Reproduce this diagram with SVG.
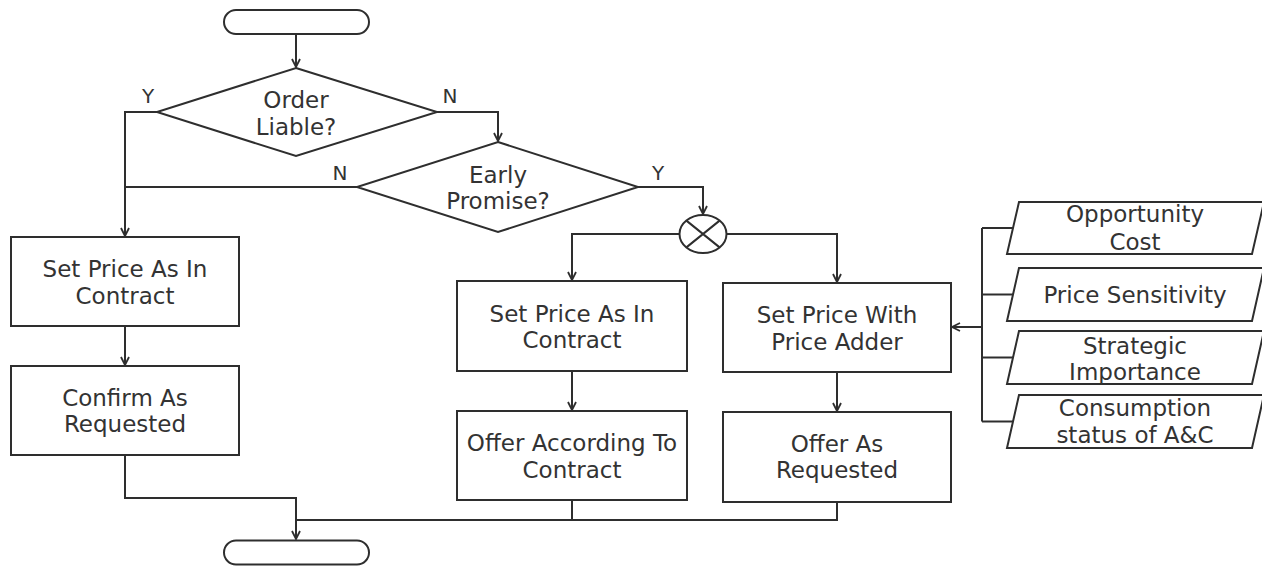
<svg xmlns="http://www.w3.org/2000/svg" width="1262" height="567" viewBox="0 0 1262 567">
  <style>
    .shape { fill: #ffffff; stroke: #2e2e2e; stroke-width: 2; }
    .line { fill: none; stroke: #2e2e2e; stroke-width: 2; }
    .label { font-family: "DejaVu Sans", Verdana, sans-serif; font-size: 23px; fill: #333333; text-anchor: middle; }
    .yn { font-family: "DejaVu Sans", Verdana, sans-serif; font-size: 20px; fill: #333333; text-anchor: middle; }
  </style>
  <defs>
    <marker id="arrow" viewBox="0 0 10 10" refX="9.5" refY="5" markerWidth="10" markerHeight="10" markerUnits="userSpaceOnUse" orient="auto">
      <path d="M1.5,1 L9.5,5 L1.5,9" fill="none" stroke="#2e2e2e" stroke-width="1.8"/>
    </marker>
  </defs>
  <rect width="1262" height="567" fill="#ffffff"/>

  <!-- connectors -->
  <g id="connectors">
    <path class="line" d="M296,34 V67" marker-end="url(#arrow)"/>
    <path class="line" d="M157,112 H125 V236" marker-end="url(#arrow)"/>
    <path class="line" d="M437,112 H498 V141" marker-end="url(#arrow)"/>
    <path class="line" d="M357,187 H125"/>
    <path class="line" d="M638,187 H703 V214" marker-end="url(#arrow)"/>
    <path class="line" d="M679.5,234 H572 V280" marker-end="url(#arrow)"/>
    <path class="line" d="M726,234 H837 V282" marker-end="url(#arrow)"/>
    <path class="line" d="M125,326 V365" marker-end="url(#arrow)"/>
    <path class="line" d="M572,371 V410" marker-end="url(#arrow)"/>
    <path class="line" d="M837,372 V411" marker-end="url(#arrow)"/>
    <path class="line" d="M125,455 V498 H296 V539" marker-end="url(#arrow)"/>
    <path class="line" d="M572,500 V520 H296"/>
    <path class="line" d="M837,502 V520 H572"/>
    <path class="line" d="M982,228 V421.5"/>
    <path class="line" d="M982,228 H1013"/>
    <path class="line" d="M982,294.5 H1013"/>
    <path class="line" d="M982,357.5 H1013"/>
    <path class="line" d="M982,421.5 H1013"/>
    <path class="line" d="M982,327 H952" marker-end="url(#arrow)"/>
    <text class="yn" x="148" y="103">Y</text>
    <text class="yn" x="450" y="103">N</text>
    <text class="yn" x="340" y="180">N</text>
    <text class="yn" x="658" y="180">Y</text>
  </g>

  <!-- start / end terminals -->
  <g id="start">
    <rect class="shape" x="224" y="10" width="145" height="24" rx="12" ry="12"/>
  </g>
  <g id="end">
    <rect class="shape" x="224" y="540.5" width="145" height="24" rx="12" ry="12"/>
  </g>

  <!-- decisions -->
  <g id="order-liable">
    <polygon class="shape" points="296,68 437,112 296,156 157,112"/>
    <text class="label" x="296" y="108">Order</text>
    <text class="label" x="296" y="135">Liable?</text>
  </g>
  <g id="early-promise">
    <polygon class="shape" points="498,142 638,187 498,232 357,187"/>
    <text class="label" x="498" y="183">Early</text>
    <text class="label" x="498" y="209">Promise?</text>
  </g>

  <!-- exclusive-or junction -->
  <g id="junction">
    <ellipse class="shape" cx="703" cy="234" rx="23.5" ry="19"/>
    <path class="line" d="M686.4,220.6 L719.6,247.4 M686.4,247.4 L719.6,220.6"/>
  </g>

  <!-- left branch -->
  <g id="set-price-contract-left">
    <rect class="shape" x="11" y="237" width="228" height="89"/>
    <text class="label" x="125" y="277">Set Price As In</text>
    <text class="label" x="125" y="304">Contract</text>
  </g>
  <g id="confirm-as-requested">
    <rect class="shape" x="11" y="366" width="228" height="89"/>
    <text class="label" x="125" y="406">Confirm As</text>
    <text class="label" x="125" y="432">Requested</text>
  </g>

  <!-- middle branch -->
  <g id="set-price-contract-mid">
    <rect class="shape" x="457" y="281" width="230" height="90"/>
    <text class="label" x="572" y="322">Set Price As In</text>
    <text class="label" x="572" y="348">Contract</text>
  </g>
  <g id="offer-according-contract">
    <rect class="shape" x="457" y="411" width="230" height="89"/>
    <text class="label" x="572" y="451">Offer According To</text>
    <text class="label" x="572" y="478">Contract</text>
  </g>

  <!-- right branch -->
  <g id="set-price-adder">
    <rect class="shape" x="723" y="283" width="228" height="89"/>
    <text class="label" x="837" y="323">Set Price With</text>
    <text class="label" x="837" y="350">Price Adder</text>
  </g>
  <g id="offer-as-requested">
    <rect class="shape" x="723" y="412" width="228" height="90"/>
    <text class="label" x="837" y="452">Offer As</text>
    <text class="label" x="837" y="478">Requested</text>
  </g>

  <!-- price adder inputs -->
  <g id="opportunity-cost">
    <polygon class="shape" points="1019,202 1264,202 1252,254 1007,254"/>
    <text class="label" x="1135" y="222">Opportunity</text>
    <text class="label" x="1135" y="250">Cost</text>
  </g>
  <g id="price-sensitivity">
    <polygon class="shape" points="1019,268 1264,268 1252,321 1007,321"/>
    <text class="label" x="1135" y="303">Price Sensitivity</text>
  </g>
  <g id="strategic-importance">
    <polygon class="shape" points="1019,331 1264,331 1252,384 1007,384"/>
    <text class="label" x="1135" y="354">Strategic</text>
    <text class="label" x="1135" y="380">Importance</text>
  </g>
  <g id="consumption-status">
    <polygon class="shape" points="1019,395 1264,395 1252,448 1007,448"/>
    <text class="label" x="1135" y="416">Consumption</text>
    <text class="label" x="1135" y="443">status of A&amp;C</text>
  </g>
</svg>
